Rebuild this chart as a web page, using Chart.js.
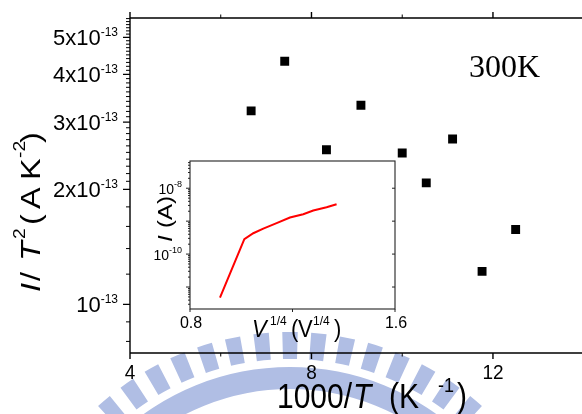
<!DOCTYPE html>
<html><head><meta charset="utf-8">
<script src="https://cdn.jsdelivr.net/npm/chart.js@4.4.0/dist/chart.umd.min.js"></script>
<style>
html,body{margin:0;padding:0;background:#fff}
#wrap{position:relative;width:582px;height:414px;overflow:hidden;background:#fff}
canvas{position:absolute;left:0;top:0}
</style></head><body>
<div id="wrap"><canvas id="main" width="590" height="414"></canvas><canvas id="inset" width="582" height="414"></canvas></div>
<script>
// ---- data ----
const invT = [6.67, 7.41, 8.33, 9.09, 10.0, 10.53, 11.11, 11.76, 12.5];          // 1000/T (K^-1)
const IoverT2 = [3.21e-13, 4.33e-13, 2.54e-13, 3.32e-13, 2.49e-13, 2.08e-13, 2.71e-13, 1.22e-13, 1.57e-13];
const xTicks = [4, 8, 12];
const xTickLabels = ['4', '8', '12'];
const xMinorTicks = [6, 10];
const yTicks = [1e-13, 2e-13, 3e-13, 4e-13, 5e-13];
const yTickLabels = ['10^-13', '2x10^-13', '3x10^-13', '4x10^-13', '5x10^-13'];
const yMinorMantissa = [0.8, 0.9, 1.2, 1.4, 1.6, 1.8, 2.1, 2.2, 2.3, 2.4, 2.5, 2.6, 2.7, 2.8, 2.9,
  3.1, 3.2, 3.3, 3.4, 3.5, 3.6, 3.7, 3.8, 3.9, 4.1, 4.2, 4.3, 4.4, 4.5, 4.6, 4.7, 4.8, 4.9,
  5.1, 5.2, 5.3, 5.4, 5.5, 5.6];
const tempLabel = '300K';

// inset: I vs V^1/4
const insetV = [0.917, 1.012, 1.047, 1.086, 1.138, 1.190, 1.242, 1.281, 1.333, 1.372];
const insetI = [4.8e-12, 2.85e-10, 4.3e-10, 5.9e-10, 8.7e-10, 1.29e-9, 1.63e-9, 2.1e-9, 2.66e-9, 3.27e-9];
const insetXTicks = [0.8, 1.2, 1.6];
const insetXTickLabels = ['0.8', '', '1.6'];
const insetYTicks = [1e-11, 1e-10, 1e-9, 1e-8];
const insetYTickLabels = ['', '10^-10', '', '10^-8'];
const insetMinorMantissa = [2, 3, 4, 5, 6, 7, 8, 9];
const insetDecades = [1e-12, 1e-11, 1e-10, 1e-9, 1e-8];

// ---- helpers ----
const SANS = '"Liberation Sans", Arial, sans-serif';
const SERIF = '"Liberation Serif", "Times New Roman", serif';
function setFont(ctx, size, italic, fam) { ctx.font = (italic ? 'italic ' : '') + size + 'px ' + (fam || SANS); }
function drawPieces(ctx, pieces, ox, oy, o) {
  o = o || {};
  ctx.save();
  ctx.translate(ox, oy);
  if (o.rotate) ctx.rotate(o.rotate);
  ctx.fillStyle = '#000'; ctx.textAlign = 'left'; ctx.textBaseline = 'alphabetic';
  for (const p of pieces) {
    setFont(ctx, p.size, p.italic);
    ctx.save(); ctx.translate(p.at, -(p.rise || 0)); ctx.scale(o.sx || 1, o.sy || 1);
    ctx.fillText(p.t, 0, 0); ctx.restore();
  }
  ctx.restore();
}
function supLabel(ctx, label, x, y, size, supSize, rise, align, sy) {
  const i = label.indexOf('^');
  const base = i < 0 ? label : label.slice(0, i);
  const sup = i < 0 ? '' : label.slice(i + 1);
  setFont(ctx, size); const wb = ctx.measureText(base).width;
  setFont(ctx, supSize); const ws = sup ? ctx.measureText(sup).width : 0;
  const w = wb + ws;
  const x0 = align === 'right' ? x - w : align === 'center' ? x - w / 2 : x;
  ctx.save();
  ctx.translate(0, y); ctx.scale(1, sy || 1);
  ctx.fillStyle = '#000'; ctx.textAlign = 'left'; ctx.textBaseline = 'alphabetic';
  setFont(ctx, size); ctx.fillText(base, x0, 0);
  if (sup) { setFont(ctx, supSize); ctx.fillText(sup, x0 + wb, -rise); }
  ctx.restore();
}
function drawWatermark(ctx) {
  const cx = 290, cy = 618, r1 = 259, r2 = 286, rb1 = 229, rb2 = 251;
  const deg = Math.PI / 180, pitch = 5.8 * deg, half = 1.55 * deg;
  ctx.save();
  ctx.fillStyle = 'rgb(176,190,228)';
  for (let k = -7; k <= 7; k++) {
    const a = -Math.PI / 2 + k * pitch;
    ctx.beginPath();
    ctx.arc(cx, cy, r2, a - half, a + half);
    ctx.arc(cx, cy, r1, a + half, a - half, true);
    ctx.closePath(); ctx.fill();
  }
  ctx.beginPath();
  ctx.arc(cx, cy, rb2, -Math.PI / 2 - 44 * deg, -Math.PI / 2 + 44 * deg);
  ctx.arc(cx, cy, rb1, -Math.PI / 2 + 44 * deg, -Math.PI / 2 - 44 * deg, true);
  ctx.closePath(); ctx.fill();
  ctx.restore();
}

// ---- main chart ----
const mainDecor = {
  id: 'mainDecor',
  beforeDraw(chart) {
    const ctx = chart.ctx;
    ctx.save(); ctx.fillStyle = '#fff'; ctx.fillRect(0, 0, chart.width, chart.height); ctx.restore();
    drawWatermark(ctx);
  },
  afterDraw(chart) {
    const ctx = chart.ctx, a = chart.chartArea, xs = chart.scales.x, ys = chart.scales.y;
    ctx.save();
    ctx.strokeStyle = '#000'; ctx.lineWidth = 1.4;
    ctx.beginPath();
    ctx.moveTo(a.left, a.top); ctx.lineTo(a.left, a.bottom);
    ctx.moveTo(a.left - 0.7, a.top); ctx.lineTo(a.right, a.top);
    ctx.moveTo(a.left - 0.7, a.bottom); ctx.lineTo(a.right, a.bottom);
    for (const v of xTicks) {
      const p = xs.getPixelForValue(v);
      ctx.moveTo(p, a.top); ctx.lineTo(p, a.top - 6);
      ctx.moveTo(p, a.bottom); ctx.lineTo(p, a.bottom + 6);
    }
    for (const v of yTicks) {
      const p = ys.getPixelForValue(v);
      ctx.moveTo(a.left, p); ctx.lineTo(a.left - 7, p);
    }
    ctx.stroke();
    ctx.lineWidth = 1;
    ctx.beginPath();
    for (const v of xMinorTicks) {
      const p = xs.getPixelForValue(v);
      ctx.moveTo(p, a.top); ctx.lineTo(p, a.top - 3.5);
      ctx.moveTo(p, a.bottom); ctx.lineTo(p, a.bottom + 3.5);
    }
    for (const m of yMinorMantissa) {
      const p = ys.getPixelForValue(m * 1e-13);
      if (p < a.top || p > a.bottom) continue;
      ctx.moveTo(a.left, p); ctx.lineTo(a.left - 4, p);
    }
    ctx.stroke();
    // tick labels
    yTicks.forEach((v, i) => {
      const p = ys.getPixelForValue(v);
      supLabel(ctx, yTickLabels[i], 118, p + 7.8, 22, 12, 9, 'right');
    });
    xTicks.forEach((v, i) => {
      const p = xs.getPixelForValue(v);
      supLabel(ctx, xTickLabels[i], p, 379, 19, 12, 8, 'center', 1.1);
    });
    // axis titles
    drawPieces(ctx, [
      { t: '1000/', size: 30, at: 277 },
      { t: 'T', size: 30, italic: true, at: 353 },
      { t: '(', size: 30, at: 389 },
      { t: 'K', size: 30, at: 399 },
      { t: '-1', size: 18, at: 438, rise: 16 },
      { t: ')', size: 30, at: 457 }
    ], 0, 408, { sy: 1.15 });
    drawPieces(ctx, [
      { t: 'I', size: 27, italic: true, at: 0 },
      { t: '/', size: 27, at: 11 },
      { t: 'T', size: 27, italic: true, at: 31 },
      { t: '2', size: 16, at: 53, rise: 15 },
      { t: '(', size: 27, at: 67 },
      { t: 'A', size: 27, at: 83 },
      { t: 'K', size: 27, at: 112 },
      { t: '-2', size: 16, at: 134, rise: 15 },
      { t: ')', size: 27, at: 149 }
    ], 40, 292, { rotate: -Math.PI / 2, sx: 1.2 });
    // temperature label
    ctx.fillStyle = '#000'; ctx.textAlign = 'left'; ctx.textBaseline = 'alphabetic';
    setFont(ctx, 32, false, SERIF);
    ctx.fillText(tempLabel, 469, 77);
    ctx.restore();
  }
};

new Chart(document.getElementById('main'), {
  type: 'scatter',
  data: {
    datasets: [{
      data: invT.map((v, i) => ({ x: v, y: IoverT2[i] })),
      pointStyle: 'rect', pointRadius: 6.3, pointHoverRadius: 6.3,
      backgroundColor: '#000', borderColor: '#000', borderWidth: 0
    }]
  },
  options: {
    responsive: false, animation: false, events: [],
    layout: { padding: { left: 130, top: 18, right: 5, bottom: 61 } },
    scales: {
      x: { type: 'linear', min: 4, max: 14, display: false },
      y: { type: 'logarithmic', min: 7.46e-14, max: 5.62e-13, display: false }
    },
    plugins: { legend: { display: false }, tooltip: { enabled: false } }
  },
  plugins: [mainDecor]
});

// ---- inset chart ----
const insetDecor = {
  id: 'insetDecor',
  beforeDatasetsDraw(chart) {
    const ctx = chart.ctx, a = chart.chartArea;
    ctx.save(); ctx.fillStyle = '#fff'; ctx.fillRect(a.left, a.top, a.right - a.left, a.bottom - a.top); ctx.restore();
  },
  afterDraw(chart) {
    const ctx = chart.ctx, a = chart.chartArea, xs = chart.scales.x, ys = chart.scales.y;
    ctx.save();
    ctx.strokeStyle = '#222'; ctx.lineWidth = 1.1;
    ctx.strokeRect(a.left, a.top, a.right - a.left, a.bottom - a.top);
    ctx.lineWidth = 1;
    ctx.beginPath();
    for (const v of insetXTicks) {
      const p = xs.getPixelForValue(v);
      ctx.moveTo(p, a.bottom); ctx.lineTo(p, a.bottom + 3);
    }
    for (const v of insetYTicks) {
      const p = ys.getPixelForValue(v);
      ctx.moveTo(a.left, p); ctx.lineTo(a.left - 4, p);
      ctx.moveTo(a.right, p); ctx.lineTo(a.right - 3, p);
    }
    for (const d of insetDecades) {
      for (const m of insetMinorMantissa) {
        const p = ys.getPixelForValue(d * m);
        if (p < a.top || p > a.bottom) continue;
        ctx.moveTo(a.left, p); ctx.lineTo(a.left - 2, p);
      }
    }
    ctx.stroke();
    insetXTicks.forEach((v, i) => {
      if (!insetXTickLabels[i]) return;
      const p = xs.getPixelForValue(v);
      supLabel(ctx, insetXTickLabels[i], p + 1, 328, 16, 10, 6, 'center', 1.05);
    });
    insetYTicks.forEach((v, i) => {
      if (!insetYTickLabels[i]) return;
      const p = ys.getPixelForValue(v);
      supLabel(ctx, insetYTickLabels[i], 182, p + 6, 14, 9, 7, 'right');
    });
    drawPieces(ctx, [
      { t: 'V', size: 22, italic: true, at: 252 },
      { t: '1/4', size: 12, at: 270, rise: 12 },
      { t: '(', size: 22, at: 291 },
      { t: 'V', size: 22, at: 298 },
      { t: '1/4', size: 12, at: 313, rise: 12 },
      { t: ')', size: 22, at: 334 }
    ], 0, 337, { sy: 1.1 });
    drawPieces(ctx, [
      { t: 'I', size: 20, italic: true, at: 0 },
      { t: '(A)', size: 20, at: 14 }
    ], 172, 242, { rotate: -Math.PI / 2, sx: 1.2 });
    ctx.restore();
  }
};

new Chart(document.getElementById('inset'), {
  type: 'line',
  data: {
    datasets: [{
      data: insetV.map((v, i) => ({ x: v, y: insetI[i] })),
      borderColor: '#ff0000', borderWidth: 2, pointRadius: 0, fill: false, tension: 0
    }]
  },
  options: {
    responsive: false, animation: false, events: [],
    layout: { padding: { left: 190, top: 161, right: 187, bottom: 105 } },
    scales: {
      x: { type: 'linear', min: 0.8, max: 1.6, display: false },
      y: { type: 'logarithmic', min: 2.15e-12, max: 6.71e-8, display: false }
    },
    plugins: { legend: { display: false }, tooltip: { enabled: false } }
  },
  plugins: [insetDecor]
});
</script>
</body></html>
